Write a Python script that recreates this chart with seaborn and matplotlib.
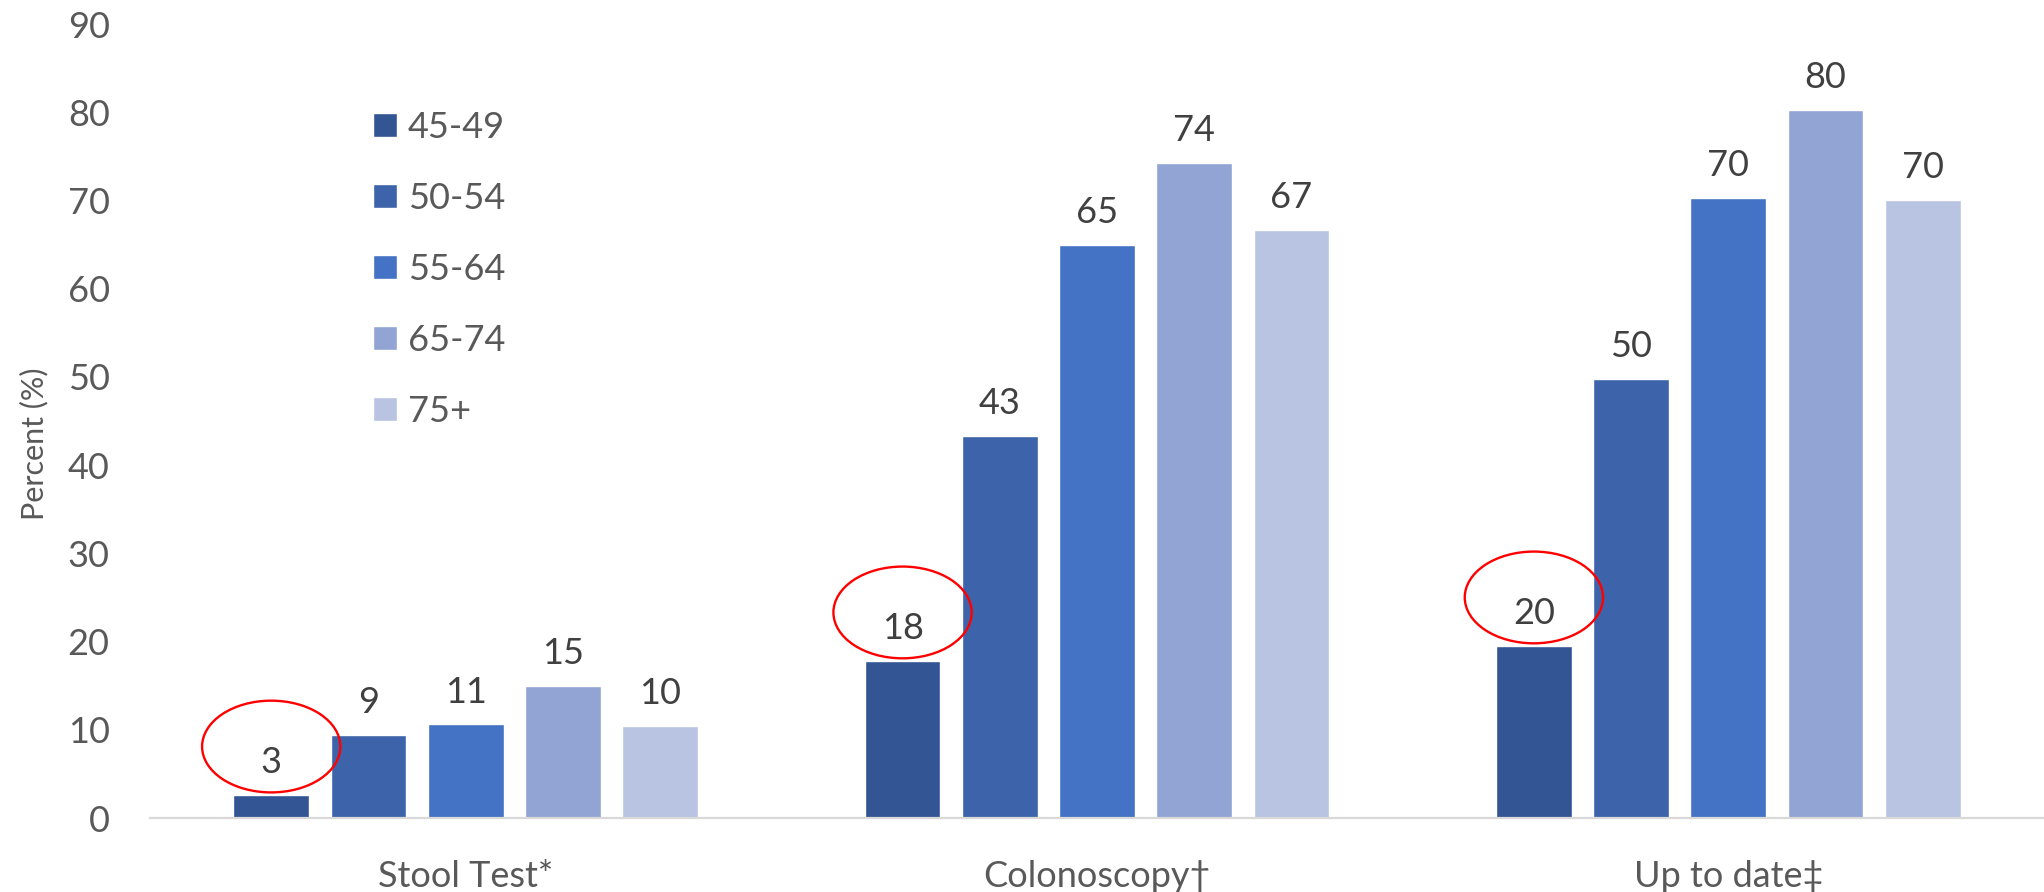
import matplotlib
matplotlib.use("Agg")
import matplotlib.pyplot as plt
from matplotlib.patches import Ellipse
import seaborn as sns
import pandas as pd

# Screening test categories and age groups
tests = ["Stool Test*", "Colonoscopy\u2020", "Up to date\u2021"]
ages = ["45-49", "50-54", "55-64", "65-74", "75+"]

# Percent screened, one list per age group (order follows `tests`)
pct_45_49 = [2.6, 17.8, 19.5]
pct_50_54 = [9.4, 43.3, 49.8]
pct_55_64 = [10.6, 65.0, 70.3]
pct_65_74 = [15.0, 74.2, 80.3]
pct_75_up = [10.4, 66.7, 70.1]

colors = ["#335593", "#3d64aa", "#4472c4", "#91a4d4", "#b9c4e2"]
y_ticks = [0, 10, 20, 30, 40, 50, 60, 70, 80, 90]

series = [pct_45_49, pct_50_54, pct_55_64, pct_65_74, pct_75_up]
df = pd.DataFrame(
    [(t, a, v) for a, vals in zip(ages, series) for t, v in zip(tests, vals)],
    columns=["test", "age", "pct"],
)

sns.set_theme(style="white")
plt.rcParams["font.family"] = ["Lato", "DejaVu Sans"]

W, H = 2044, 892
fig = plt.figure(figsize=(W / 100, H / 100), dpi=100)
ax = fig.add_axes([150 / W, 1 - 818 / H, 1 - 150 / W, (818 - 24) / H])

sns.barplot(
    data=df, x="test", y="pct", hue="age", hue_order=ages, order=tests,
    palette=colors, width=0.77, gap=0.22, saturation=1, ax=ax,
    errorbar=None, legend=True,
)

ax.set_xlim(-0.5, 2.5)
ax.set_ylim(0, 90)
ax.set_yticks(y_ticks)
ax.set_xlabel("")
ax.set_ylabel("")

tick_color = "#595959"
ax.tick_params(axis="y", length=0, pad=29, labelsize=26, labelcolor=tick_color)
ax.tick_params(axis="x", length=0, pad=30.5, labelsize=26, labelcolor=tick_color)

for side in ["top", "right", "left"]:
    ax.spines[side].set_visible(False)
ax.spines["bottom"].set_color("#d9d9d9")
ax.spines["bottom"].set_linewidth(1.6)

# Y-axis title
fig.text(34 / W, 1 - 444 / H, "Percent (%)", rotation=90, fontsize=22,
         color=tick_color, ha="center", va="center")

# Value labels above each bar
for cont in ax.containers:
    ax.bar_label(cont, fmt="{:.0f}", padding=11.5, fontsize=26, color="#404040")

# Red ovals highlighting the 45-49 group
for bar in ax.containers[0]:
    cx = bar.get_x() + bar.get_width() / 2
    cy = bar.get_height() + 5.5
    ax.add_patch(Ellipse((cx, cy), width=0.219, height=10.4, fill=False,
                         edgecolor="#ff0000", linewidth=1.7, zorder=5,
                         clip_on=False))

sns.move_legend(
    ax, "upper left", bbox_to_anchor=(373 / W, 1 - 111 / H),
    bbox_transform=fig.transFigure, frameon=False, title=None,
    fontsize=26, labelcolor=tick_color, handlelength=0.66, handleheight=0.66,
    handletextpad=0.3, labelspacing=1.05, borderpad=0, borderaxespad=0,
)

fig.savefig("out.png", dpi=100)
